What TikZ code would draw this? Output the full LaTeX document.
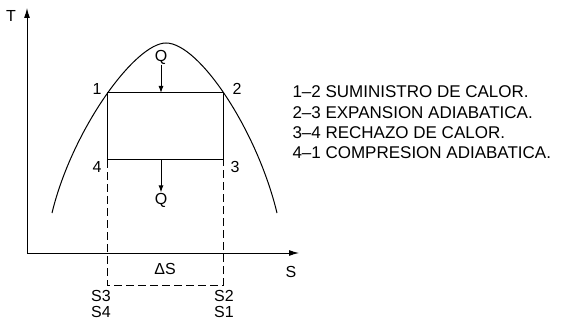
\documentclass[tikz,border=0pt]{standalone}
\usepackage{fontspec}
\setmainfont{Liberation Sans}
\usetikzlibrary{arrows.meta}

\begin{document}
\begin{tikzpicture}[x=1pt,y=-1pt,line width=1pt,
    lbl/.style={font=\fontsize{16}{18}\selectfont,inner sep=0pt},
    txt/.style={font=\fontsize{17}{20}\selectfont,inner sep=0pt,anchor=west},
    guide/.style={dash pattern=on 8pt off 4pt}]
    \useasboundingbox (0,0) rectangle (581,326);

    % ejes T-S
    \coordinate (O) at (27,253);
    \coordinate (Ttop) at (27,8);
    \coordinate (Send) at (299,253);
    \draw [-{Latex[length=10pt,width=6pt]}] (O) -- (Ttop);
    \draw [-{Latex[length=10pt,width=6pt]}] (O) -- (Send);
    \node[lbl] (T) at (11,16) {T};
    \node[lbl] (S) at (291,272) {S};

    % campana de saturacion
    \draw (52,213) .. controls (72,130) and (135,43) .. (166,43)
                   .. controls (199,43) and (257,130) .. (277,213);

    % ciclo
    \coordinate (p1) at (107,93);
    \coordinate (p2) at (223,93);
    \coordinate (p3) at (223,160);
    \coordinate (p4) at (107,160);
    \draw (p1) -- (p2) -- (p3) -- (p4) -- cycle;
    \node[lbl] (n1) at (97,89) {1};
    \node[lbl] (n2) at (237,89) {2};
    \node[lbl] (n3) at (235,167) {3};
    \node[lbl] (n4) at (97,167) {4};

    % calor
    \node[lbl] (Qin) at (161,57) {Q};
    \coordinate (qa) at (161,93);
    \draw [-{Latex[length=7pt,width=5pt]}] (Qin) -- (qa);
    \coordinate (qb) at (161,160);
    \node[lbl] (Qout) at (161,200) {Q};
    \draw [-{Latex[length=7pt,width=5pt]}] (qb) -- (Qout);

    % entropias
    \coordinate (s4) at (107,285);
    \coordinate (s1) at (223,285);
    \draw [guide] (p4) -- (s4) -- (s1) -- (p3);
    \node[lbl] (dS) at (165,269) {ΔS};
    \node[lbl] (S3) at (101,296) {S3};
    \node[lbl] (S4) at (101,312) {S4};
    \node[lbl] (S2) at (224,296) {S2};
    \node[lbl] (S1) at (224,312) {S1};

    % leyenda
    \node[txt] (l12) at (292,92) {1--2 SUMINISTRO DE CALOR.};
    \node[txt] (l23) at (292,113) {2--3 EXPANSION ADIABATICA.};
    \node[txt] (l34) at (292,133) {3--4 RECHAZO DE CALOR.};
    \node[txt] (l41) at (292,153) {4--1 COMPRESION ADIABATICA.};
\end{tikzpicture}
\end{document}
